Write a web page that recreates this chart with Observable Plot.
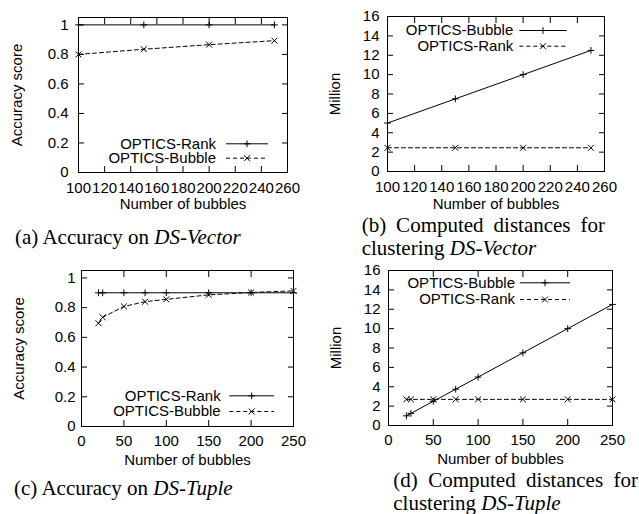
<!DOCTYPE html>
<html><head><meta charset="utf-8">
<script src="https://cdn.jsdelivr.net/npm/d3@7"></script>
<script src="https://cdn.jsdelivr.net/npm/@observablehq/plot@0.6"></script>
<style>
html,body{margin:0;padding:0;background:#fff;}
#wrap{position:relative;width:639px;height:514px;overflow:hidden;background:#fff;}
.panel{position:absolute;}
.cap{position:absolute;font-family:"Liberation Serif","Times New Roman",serif;font-size:21px;color:#000;line-height:23px;white-space:nowrap;}
.cap2{white-space:normal;text-align:justify;text-align-last:left;}
</style></head>
<body><div id="wrap"></div>
<script>
// ---------- data ----------
const vecBubbles = [100, 150, 200, 250];
const vecAccRank = [1, 1, 1, 1];
const vecAccBubble = [0.80, 0.835, 0.866, 0.893];
const vecDistBubble = [5, 7.5, 10, 12.5];
const vecDistRank = [2.45, 2.45, 2.45, 2.45];

const tupBubbles = [20, 25, 50, 75, 100, 150, 200, 250];
const tupAccRank = [0.9, 0.9, 0.9, 0.9, 0.9, 0.9, 0.9, 0.9];
const tupAccBubble = [0.695, 0.735, 0.808, 0.84, 0.856, 0.886, 0.902, 0.913];
const tupDistBubble = [1, 1.25, 2.5, 3.75, 5, 7.5, 10, 12.5];
const tupDistRank = [2.7, 2.7, 2.7, 2.7, 2.7, 2.7, 2.7, 2.7];

const vecXTicks = [100, 120, 140, 160, 180, 200, 220, 240, 260];
const tupXTicks = [0, 50, 100, 150, 200, 250];
const accYTicks = [0, 0.2, 0.4, 0.6, 0.8, 1];
const accYTickLabels = ["0", "0.2", "0.4", "0.6", "0.8", "1"];
const distYTicks = [0, 2, 4, 6, 8, 10, 12, 14, 16];
const distYTickLabels = ["0", "2", "4", "6", "8", "10", "12", "14", "16"];

const xLabel = "Number of bubbles";
const accLabel = "Accuracy score";
const distLabel = "Million";
const nameRank = "OPTICS-Rank";
const nameBubble = "OPTICS-Bubble";

// ---------- helpers ----------
const FONT = '"Liberation Sans", Arial, Helvetica, sans-serif';
const R_PLUS = 2.3, R_TIMES = 2.8, DASH = "4,3";
const wrap = document.getElementById("wrap");

const toRows = (xs, ys) => xs.map((x, i) => ({x, y: ys[i]}));

function seriesMarks(rows, solid) {
  return [
    Plot.line(rows, {x: "x", y: "y", stroke: "black", strokeWidth: 1, strokeDasharray: solid ? null : DASH}),
    Plot.dot(rows, {x: "x", y: "y", symbol: solid ? "plus" : "times", r: solid ? R_PLUS : R_TIMES, stroke: "black", strokeWidth: 1})
  ];
}

function axes(xt, yt, ylabels, xpad, ypad) {
  const yfmt = d => ylabels[yt.indexOf(d)] ?? String(d);
  return [
    Plot.axisX(xt, {anchor: "bottom", tickSize: 0, tickPadding: xpad, label: null, tickFormat: d => String(d)}),
    Plot.axisX(xt, {anchor: "bottom", tickSize: -6, label: null, tickFormat: () => ""}),
    Plot.axisX(xt, {anchor: "top", tickSize: -6, label: null, tickFormat: () => ""}),
    Plot.axisY(yt, {anchor: "left", tickSize: 0, tickPadding: ypad, label: null, tickFormat: yfmt}),
    Plot.axisY(yt, {anchor: "left", tickSize: -6, label: null, tickFormat: () => ""}),
    Plot.axisY(yt, {anchor: "right", tickSize: -6, label: null, tickFormat: () => ""})
  ];
}

function legend(svg, entries, xEnd, ys, s0, s1) {
  const g = d3.select(svg).append("g").attr("font-family", FONT).attr("font-size", 15);
  entries.forEach((e, i) => {
    const y = ys[i];
    g.append("text").attr("x", xEnd).attr("y", y + 5.4).attr("text-anchor", "end").attr("fill", "black").text(e.name);
    g.append("line").attr("x1", s0).attr("x2", s1).attr("y1", y + 0.5).attr("y2", y + 0.5)
      .attr("stroke", "black").attr("stroke-width", 1).attr("stroke-dasharray", e.solid ? null : DASH);
    const r = e.solid ? R_PLUS : R_TIMES;
    g.append("path").attr("transform", `translate(${(s0 + s1) / 2},${y + 0.5})`)
      .attr("d", d3.symbol(e.solid ? d3.symbolPlus : d3.symbolTimes, Math.PI * r * r)())
      .attr("fill", "none").attr("stroke", "black").attr("stroke-width", 1);
  });
}

function panel(cfg) {
  const svg = Plot.plot({
    width: cfg.width, height: cfg.height,
    marginLeft: cfg.ml, marginRight: cfg.mr, marginTop: cfg.mt, marginBottom: cfg.mb,
    x: {domain: cfg.xDomain},
    y: {domain: cfg.yDomain},
    style: {fontFamily: FONT, fontSize: "15px", color: "black", background: "transparent", overflow: "visible"},
    marks: [
      ...axes(cfg.xTicks, cfg.yTicks, cfg.yLabels, cfg.xpad, cfg.ypad),
      Plot.frame({stroke: "black", strokeWidth: 1}),
      ...cfg.series.flatMap(s => seriesMarks(s.rows, s.solid)),
      Plot.text([xLabel], {frameAnchor: "bottom", dy: cfg.xlDy, fill: "black", textAnchor: "middle"}),
      Plot.text([cfg.yTitle], {frameAnchor: "left", dx: cfg.ylDx, rotate: -90, fill: "black", textAnchor: "middle"})
    ]
  });
  svg.classList.add("panel");
  svg.style.left = cfg.left + "px";
  svg.style.top = cfg.top + "px";
  legend(svg, cfg.series.map(s => ({name: s.name, solid: s.solid})), cfg.lg.xEnd, cfg.lg.ys, cfg.lg.s0, cfg.lg.s1);
  wrap.appendChild(svg);
}

// (a) accuracy on DS-Vector
panel({
  left: 0, top: 0, width: 300, height: 222, ml: 78, mr: 13, mt: 17, mb: 50,
  xDomain: [100, 260], yDomain: [0, 1.05], xTicks: vecXTicks, yTicks: accYTicks, yLabels: accYTickLabels,
  xpad: 10, ypad: 10, xlDy: 36.5, ylDx: -61.3, yTitle: accLabel,
  series: [
    {name: nameRank, solid: true, rows: toRows(vecBubbles, vecAccRank)},
    {name: nameBubble, solid: false, rows: toRows(vecBubbles, vecAccBubble)}
  ],
  lg: {xEnd: 216, ys: [143.3, 157.7], s0: 226, s1: 268}
});

// (b) computed distances DS-Vector
panel({
  left: 320, top: 0, width: 300, height: 222, ml: 67, mr: 16, mt: 16, mb: 51,
  xDomain: [100, 260], yDomain: [0, 16], xTicks: vecXTicks, yTicks: distYTicks, yLabels: distYTickLabels,
  xpad: 10, ypad: 8, xlDy: 37, ylDx: -52, yTitle: distLabel,
  series: [
    {name: nameBubble, solid: true, rows: toRows(vecBubbles, vecDistBubble)},
    {name: nameRank, solid: false, rows: toRows(vecBubbles, vecDistRank)}
  ],
  lg: {xEnd: 193.3, ys: [30, 45.7], s0: 199.3, s1: 246.7}
});

// (c) accuracy on DS-Tuple
panel({
  left: 0, top: 257, width: 300, height: 222, ml: 81, mr: 7, mt: 13, mb: 53,
  xDomain: [0, 250], yDomain: [0, 1.05], xTicks: tupXTicks, yTicks: accYTicks, yLabels: accYTickLabels,
  xpad: 9, ypad: 6, xlDy: 38, ylDx: -62.3, yTitle: accLabel,
  series: [
    {name: nameRank, solid: true, rows: toRows(tupBubbles, tupAccRank)},
    {name: nameBubble, solid: false, rows: toRows(tupBubbles, tupAccBubble)}
  ],
  lg: {xEnd: 220.7, ys: [138.3, 154], s0: 229.3, s1: 274}
});

// (d) computed distances DS-Tuple
panel({
  left: 320, top: 257, width: 319, height: 222, ml: 68, mr: 27, mt: 13, mb: 54,
  xDomain: [0, 250], yDomain: [0, 16], xTicks: tupXTicks, yTicks: distYTicks, yLabels: distYTickLabels,
  xpad: 9, ypad: 8, xlDy: 38, ylDx: -52.7, yTitle: distLabel,
  series: [
    {name: nameBubble, solid: true, rows: toRows(tupBubbles, tupDistBubble)},
    {name: nameRank, solid: false, rows: toRows(tupBubbles, tupDistRank)}
  ],
  lg: {xEnd: 195, ys: [25.3, 42], s0: 200, s1: 250}
});

// ---------- captions ----------
const captions = [
  {left: 15, top: 226.4, width: null, html: '(a) Accuracy on <i>DS-Vector</i>'},
  {left: 361.7, top: 214.4, width: 243.3, html: '(b) Computed distances for clustering <i>DS-Vector</i>'},
  {left: 14, top: 477.4, width: null, html: '(c) Accuracy on <i>DS-Tuple</i>'},
  {left: 393.3, top: 469.4, width: 244.7, html: '(d) Computed distances for clustering <i>DS-Tuple</i>'}
];
captions.forEach(c => {
  const d = document.createElement("div");
  d.className = "cap" + (c.width ? " cap2" : "");
  d.style.left = c.left + "px";
  d.style.top = c.top + "px";
  if (c.width) d.style.width = c.width + "px";
  d.innerHTML = c.html;
  wrap.appendChild(d);
});
</script>
</body></html>
